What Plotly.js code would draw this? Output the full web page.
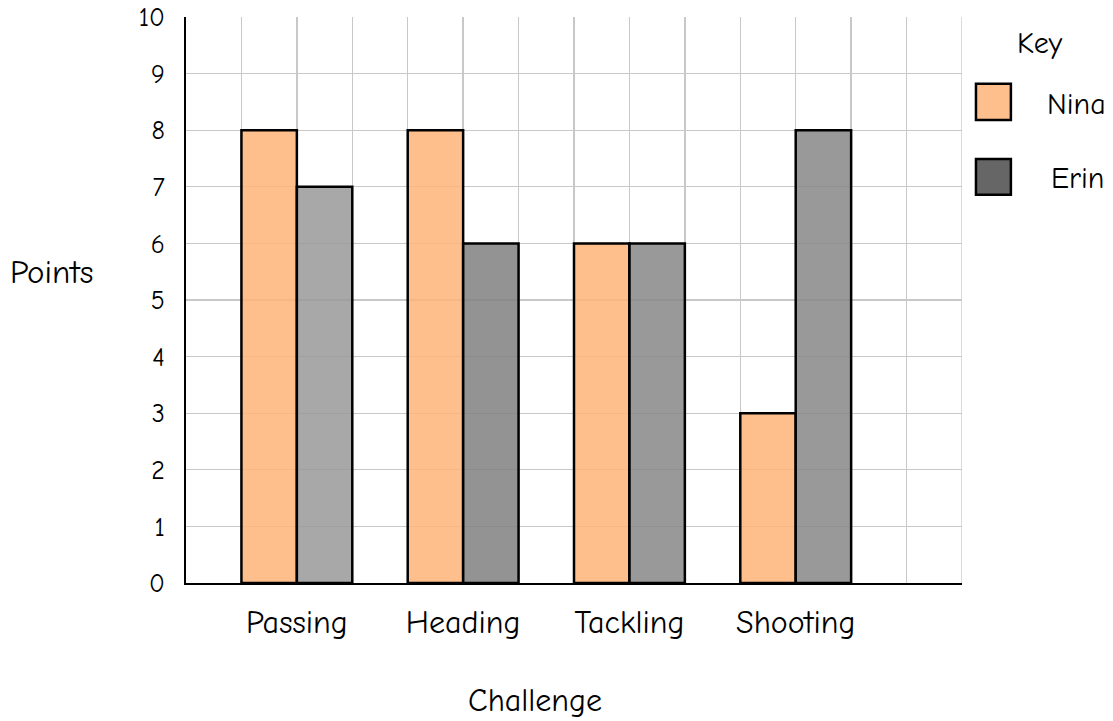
<!DOCTYPE html>
<html>
<head>
<meta charset="utf-8">
<script src="https://cdn.plot.ly/plotly-3.0.1.min.js"></script>
<style>html,body{margin:0;padding:0;background:#fff;}#chart{width:1113px;height:721px;}</style>
</head>
<body>
<div id="chart"></div>
<script>
// Data
const categories = ["Passing", "Heading", "Tackling", "Shooting"];
const ninaPoints = [8, 8, 6, 3];
const erinPoints = [7, 6, 6, 8];
const seriesNames = ["Nina", "Erin"];
const yTicks = [0,1,2,3,4,5,6,7,8,9,10];

// Layout helpers (positions on a 0..14 grid, category centres every 3 units)
const centres = categories.map((c, i) => 2 + 3 * i);
const FONT = "Comic Sans MS, Comic Neue, Noto Sans, sans-serif";

const ninaColor = "rgba(255,180,120,0.85)";
const erinColors = ["rgba(153,153,153,0.85)", "rgba(128,128,128,0.85)", "rgba(135,135,135,0.85)", "rgba(135,135,135,0.85)"];

const traces = [
  {
    type: "bar", name: seriesNames[0],
    x: centres, y: ninaPoints, offset: -1, width: 1,
    marker: {color: ninaColor, line: {color: "#000", width: 2.5}},
    showlegend: false, hoverinfo: "y"
  },
  {
    type: "bar", name: seriesNames[1],
    x: centres, y: erinPoints, offset: 0, width: 1,
    marker: {color: erinColors, line: {color: "#000", width: 2.5}},
    showlegend: false, hoverinfo: "y"
  }
];

const layout = {
  width: 1113, height: 721,
  margin: {l: 186, r: 151, t: 17, b: 138},
  paper_bgcolor: "#fff", plot_bgcolor: "#fff",
  font: {family: FONT, color: "#000"},
  barmode: "overlay",
  xaxis: {
    range: [0, 14], tickmode: "array", tickvals: centres, ticktext: categories,
    showgrid: true, gridcolor: "#c8c8c8", gridwidth: 1.3,
    minor: {tickmode: "linear", tick0: 0, dtick: 1, showgrid: true, gridcolor: "#c8c8c8", gridwidth: 1.3},
    showline: true, linecolor: "#000", linewidth: 2,
    ticks: "", ticklabelstandoff: 10,
    tickfont: {size: 32, family: FONT, color: "#000"},
    zeroline: false, fixedrange: true
  },
  yaxis: {
    range: [0, 10], tickmode: "array", tickvals: yTicks,
    showgrid: true, gridcolor: "#c8c8c8", gridwidth: 1.3,
    showline: true, linecolor: "#000", linewidth: 2,
    ticks: "", ticklabelstandoff: 14,
    tickfont: {size: 26, family: FONT, color: "#000"},
    zeroline: false, fixedrange: true
  },
  shapes: [
    {type: "rect", xref: "x", yref: "y", x0: 14, x1: 14, y0: 0, y1: 10, line: {color: "#c8c8c8", width: 1.3}},
    {type: "rect", xref: "paper", yref: "paper", x0: 1.018, x1: 1.063, y0: 0.818, y1: 0.882,
     fillcolor: ninaColor, line: {color: "#000", width: 2.5}},
    {type: "rect", xref: "paper", yref: "paper", x0: 1.018, x1: 1.063, y0: 0.686, y1: 0.749,
     fillcolor: "#666666", line: {color: "#000", width: 2.5}}
  ],
  annotations: [
    {text: "Points", xref: "paper", yref: "paper", x: -0.173, y: 0.549, xanchor: "center", yanchor: "middle", showarrow: false,
     font: {size: 33, family: FONT, color: "#000"}},
    {text: "Challenge", xref: "paper", yref: "paper", x: 0.45, y: -0.207, xanchor: "center", yanchor: "middle", showarrow: false,
     font: {size: 32, family: FONT, color: "#000"}},
    {text: "Key", xref: "paper", yref: "paper", x: 1.1005, y: 0.954, xanchor: "center", yanchor: "middle", showarrow: false,
     font: {size: 30, family: FONT, color: "#000"}},
    {text: seriesNames[0], xref: "paper", yref: "paper", x: 1.148, y: 0.846, xanchor: "center", yanchor: "middle", showarrow: false,
     font: {size: 30, family: FONT, color: "#000"}},
    {text: seriesNames[1], xref: "paper", yref: "paper", x: 1.149, y: 0.714, xanchor: "center", yanchor: "middle", showarrow: false,
     font: {size: 30, family: FONT, color: "#000"}}
  ]
};

Plotly.newPlot("chart", traces, layout, {staticPlot: true, displayModeBar: false});
</script>
</body>
</html>
